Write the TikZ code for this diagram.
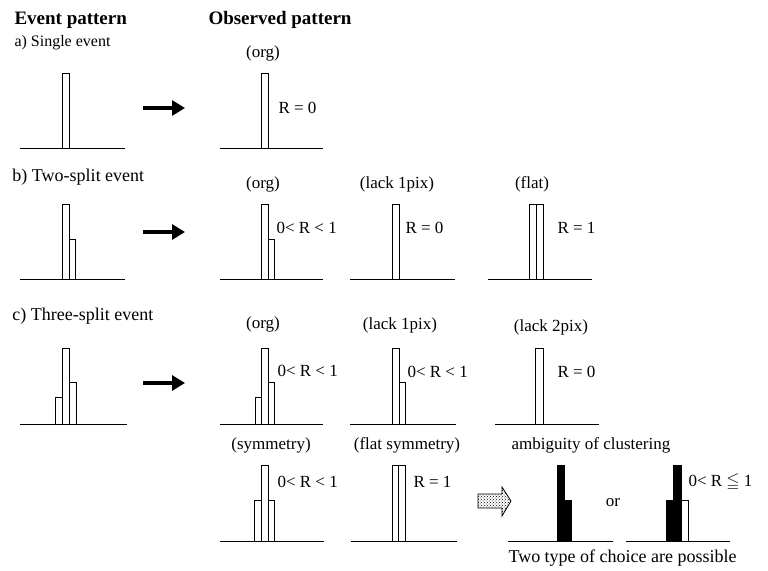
\documentclass[tikz,border=0pt]{standalone}
\usepackage{fontspec}
\setmainfont{Liberation Serif}
\usepackage{amssymb}
\usetikzlibrary{arrows.meta,patterns}
\newcommand\pillar[5][white]{\draw[fill=#1] (#2,#5) rectangle (#3,#4);}
\begin{document}
\begin{tikzpicture}[x=1pt,y=-1pt,line width=1pt,
  lbl/.style={inner sep=0pt,font=\fontsize{17}{20}\selectfont},
  ttl/.style={inner sep=0pt,anchor=west,font=\fontsize{18}{21}\selectfont},
  hdr/.style={inner sep=0pt,anchor=west,font=\bfseries\fontsize{19}{22}\selectfont},
  fatarrow/.style={line width=4pt,-{Triangle[length=13pt,width=15pt]}},
  blockarrow/.style={line width=0.8pt,pattern=crosshatch dots}]
\useasboundingbox (0,0) rectangle (768,570);
% headers
\node[hdr] (h1) at (14,20) {Event pattern};
\node[hdr] (h2) at (208,20) {Observed pattern};
% ---------- row a
\node[ttl,font=\fontsize{16}{19}\selectfont] (ta) at (14,43) {a) Single event};
\draw (20,148) -- (125,148);
\pillar{62}{69}{73}{148}
\coordinate (as) at (143,108); \coordinate (ae) at (185,108);
\draw[fatarrow] (as) -- (ae);
\node[lbl] (aorg) at (263,53) {(org)};
\draw (220,148) -- (323,148);
\pillar{261}{268}{73}{148}
\node[lbl,anchor=west] (ar) at (278,108) {R = 0};
% ---------- row b
\node[ttl] (tb) at (12,177) {b) Two-split event};
\draw (20,279) -- (125,279);
\pillar{62}{69}{204}{279}
\pillar{69}{75}{239}{279}
\coordinate (bs) at (143,232); \coordinate (be) at (185,232);
\draw[fatarrow] (bs) -- (be);
\node[lbl] (borg) at (263,184) {(org)};
\draw (220,279) -- (323,279);
\pillar{261}{268}{204}{279}
\pillar{268}{274}{239}{279}
\node[lbl,anchor=west] (br1) at (276,228) {0< R < 1};
\node[lbl] (black) at (397,184) {(lack 1pix)};
\draw (350,279) -- (455,279);
\pillar{392}{399}{204}{279}
\node[lbl,anchor=west] (br2) at (405,228) {R = 0};
\node[lbl] (bflat) at (532,184) {(flat)};
\draw (488,279) -- (592,279);
\pillar{529}{536}{204}{279}
\pillar{536}{543}{204}{279}
\node[lbl,anchor=west] (br3) at (557,228) {R = 1};
% ---------- row c
\node[ttl] (tc) at (12,316) {c) Three-split event};
\draw (20,424) -- (127,424);
\pillar{55}{62}{397}{424}
\pillar{62}{69}{348}{424}
\pillar{69}{76}{382}{424}
\coordinate (cs) at (143,383); \coordinate (ce) at (185,383);
\draw[fatarrow] (cs) -- (ce);
\node[lbl] (corg) at (263,324) {(org)};
\draw (220,424) -- (323,424);
\pillar{255}{261}{397}{424}
\pillar{261}{268}{348}{424}
\pillar{268}{274}{382}{424}
\node[lbl,anchor=west] (cr1) at (277,371) {0< R < 1};
\node[lbl] (clack1) at (400,325) {(lack 1pix)};
\draw (350,424) -- (456,424);
\pillar{392}{399}{348}{424}
\pillar{399}{405}{382}{424}
\node[lbl,anchor=west] (cr2) at (407,372) {0< R < 1};
\node[lbl] (clack2) at (551,327) {(lack 2pix)};
\draw (495,424) -- (599,424);
\pillar{535}{543}{348}{424}
\node[lbl,anchor=west] (cr3) at (557,372) {R = 0};
% ---------- row d
\node[lbl] (dsym) at (271,445) {(symmetry)};
\draw (220,541) -- (324,541);
\pillar{254}{261}{500}{541}
\pillar{261}{268}{465}{541}
\pillar{268}{274}{500}{541}
\node[lbl,anchor=west] (dr1) at (277,482) {0< R < 1};
\node[lbl] (dflat) at (407,445) {(flat symmetry)};
\draw (351,541) -- (457,541);
\pillar{392}{398}{465}{541}
\pillar{398}{405}{465}{541}
\node[lbl,anchor=west] (dr2) at (413,482) {R = 1};
\draw[blockarrow] (478,494) -- (502,494) -- (502,487) -- (511,501) -- (502,516) -- (502,508) -- (478,508) -- cycle;
\node[lbl] (amb) at (591,445) {ambiguity of clustering};
\draw (508,541) -- (613,541);
\pillar[black]{557}{564}{465}{541}
\pillar[black]{564}{571}{500}{541}
\node[lbl] (or) at (613,503) {or};
\draw (626,541) -- (730,541);
\pillar[black]{666}{673}{500}{541}
\pillar[black]{673}{681}{465}{541}
\pillar{681}{688}{500}{541}
\node[lbl,anchor=west] (dr3) at (688,482) {0< R $\leqq$ 1};
\node[ttl] (cap) at (508,558) {Two type of choice are possible};
\end{tikzpicture}
\end{document}
